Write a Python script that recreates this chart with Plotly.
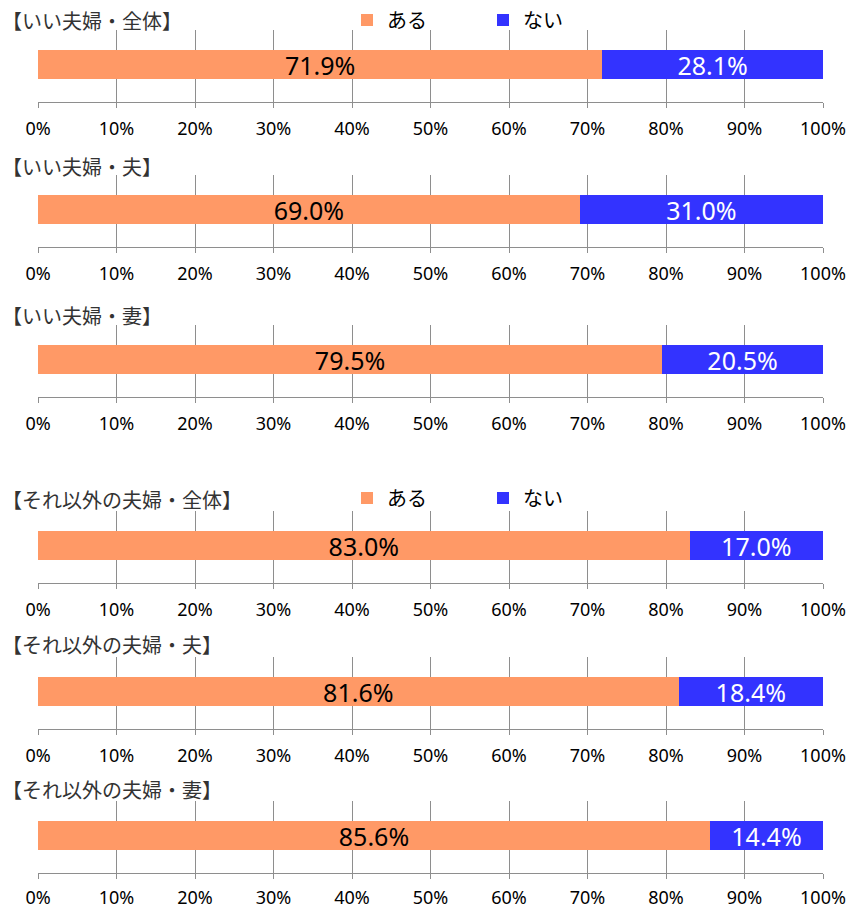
import plotly.graph_objects as go

titles = ["【いい夫婦・全体】", "【いい夫婦・夫】", "【いい夫婦・妻】",
          "【それ以外の夫婦・全体】", "【それ以外の夫婦・夫】", "【それ以外の夫婦・妻】"]
aru = [71.9, 69.0, 79.5, 83.0, 81.6, 85.6]
nai = [28.1, 31.0, 20.5, 17.0, 18.4, 14.4]
series_names = ["ある", "ない"]
tick_vals = [0, 10, 20, 30, 40, 50, 60, 70, 80, 90, 100]
tick_text = ["0%", "10%", "20%", "30%", "40%", "50%", "60%", "70%", "80%", "90%", "100%"]

W, H = 848, 906
ORANGE = "#FF9966"
BLUE = "#3333FF"
GRID = "#8e8e8e"

bar_tops = [50, 195, 345, 531, 677, 821]
title_y = [20, 167, 315, 499, 644, 789]
legend_y = [20, 498]

fig = go.Figure()
layout = dict(width=W, height=H, margin=dict(l=0, r=0, t=0, b=0, autoexpand=False),
              paper_bgcolor="white", plot_bgcolor="white", barmode="stack",
              showlegend=True, annotations=[])

x0, x1 = 38 / W, 823 / W
bar_px = 29.0
for i in range(6):
    n = i + 1
    top = bar_tops[i] - 20
    bot = bar_tops[i] + 29 + 23
    panel_h = bot - top
    units = panel_h / bar_px
    above = (20 + bar_px / 2) / bar_px
    yr = [-(units - above), above]
    xa = "x" if n == 1 else f"x{n}"
    ya = "y" if n == 1 else f"y{n}"
    leg = "legend" if i == 0 else ("legend2" if i == 3 else None)
    for vals, name, col, tcol in [(aru, series_names[0], ORANGE, "black"),
                                  (nai, series_names[1], BLUE, "white")]:
        kw = dict(legend=leg) if leg else {}
        fig.add_trace(go.Bar(
            x=[vals[i]], y=[0], orientation="h", width=1, name=name,
            marker=dict(color=col, line=dict(width=0)),
            text=[f"{vals[i]:.1f}%"], textposition="inside",
            insidetextanchor="middle", constraintext="none",
            textfont=dict(family="Noto Sans", size=25, color=tcol),
            showlegend=leg is not None, xaxis=xa, yaxis=ya,
            hoverinfo="skip", **kw))
    xkey = "xaxis" if n == 1 else f"xaxis{n}"
    ykey = "yaxis" if n == 1 else f"yaxis{n}"
    layout[xkey] = dict(domain=[x0, x1], anchor=ya, range=[0, 100],
                        tickvals=tick_vals, ticktext=tick_text, automargin=False,
                        showgrid=True, gridcolor=GRID, gridwidth=1,
                        showline=True, linecolor=GRID, linewidth=1,
                        ticks="outside", ticklen=5, tickcolor=GRID, tickwidth=1,
                        tickfont=dict(family="Noto Sans", size=18, color="black"),
                        ticklabelstandoff=5 if i < 5 else 3,
                        zeroline=False, fixedrange=True)
    layout[ykey] = dict(domain=[1 - bot / H, 1 - top / H], anchor=xa, range=yr,
                        showgrid=False, showticklabels=False, zeroline=False,
                        automargin=False,
                        showline=False, ticks="", fixedrange=True)
    layout["annotations"].append(dict(
        text=titles[i], xref="paper", yref="paper", x=0, y=1 - title_y[i] / H,
        xanchor="left", yanchor="middle", showarrow=False,
        font=dict(family="Noto Sans CJK JP", size=20, color="#333333")))

for key, ly in zip(["legend", "legend2"], legend_y):
    layout[key] = dict(orientation="h", x=(372 - 25) / W, y=1 - ly / H,
                       xanchor="left", yanchor="middle", bgcolor="rgba(0,0,0,0)",
                       entrywidth=91, entrywidthmode="pixels", traceorder="normal",
                       font=dict(family="Noto Sans CJK JP", size=20, color="black"))

fig.update_layout(**layout)
fig.write_html("out.html", config={"displayModeBar": False},
               post_script="document.body.style.margin='0px';")
